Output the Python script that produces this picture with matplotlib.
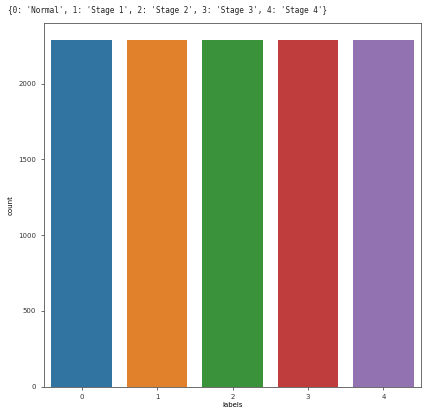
import matplotlib.pyplot as plt

# class counts after balancing
labels = [0, 1, 2, 3, 4]
counts = [2286, 2286, 2286, 2286, 2286]
colors = ["#3274a1", "#e1812c", "#3a923a", "#c03d3e", "#9372b2"]
label_map = "{0: 'Normal', 1: 'Stage 1', 2: 'Stage 2', 3: 'Stage 3', 4: 'Stage 4'}"

fig = plt.figure(figsize=(4.22, 4.08), dpi=100)
ax = fig.add_axes([0.104, 0.052, 0.894, 0.892])

ax.bar(labels, counts, width=0.8, color=colors)
ax.set_xlim(-0.5, 4.5)
ax.set_ylim(0, 2400)
ax.set_xticks(labels)
ax.set_yticks([0, 500, 1000, 1500, 2000])
ax.tick_params(labelsize=5, length=2, width=0.5, colors="#333333")
ax.set_xlabel("labels", fontsize=5, labelpad=1)
ax.set_ylabel("count", fontsize=5, labelpad=3)
for s in ax.spines.values():
    s.set_linewidth(0.6)
    s.set_color("#555555")

fig.text(0.02, 0.985, label_map, fontsize=5.5, family="DejaVu Sans Mono",
         va="top", ha="left", color="#222222")

plt.savefig("out.png", dpi=100)
